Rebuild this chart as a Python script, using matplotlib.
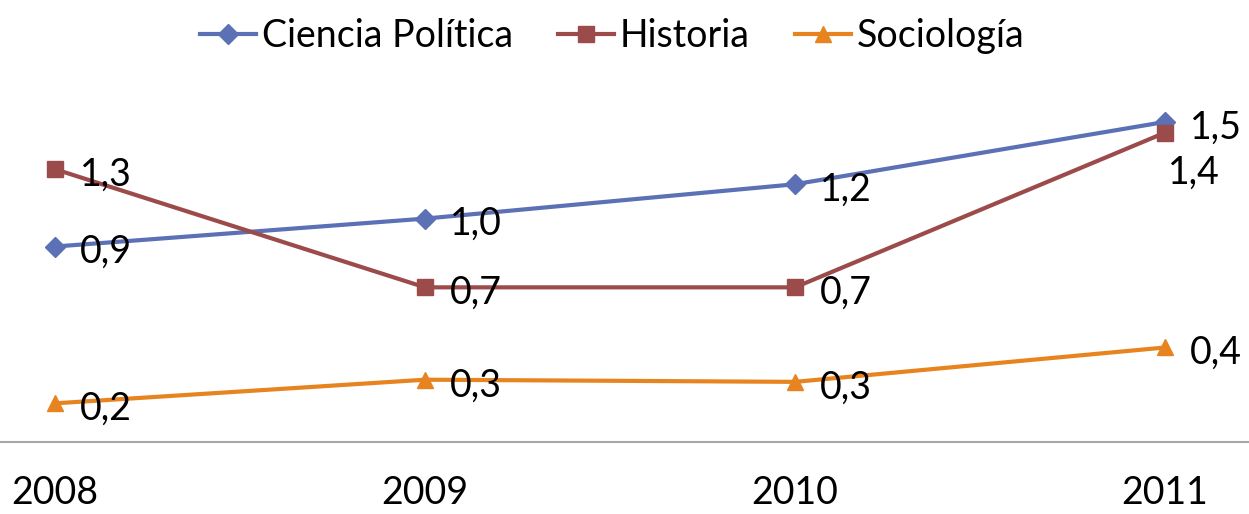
import matplotlib.pyplot as plt
import numpy as np

# Data
years = ['2008', '2009', '2010', '2011']
ciencia_politica = [0.91, 1.04, 1.20, 1.49]
historia = [1.27, 0.72, 0.72, 1.44]
sociologia = [0.18, 0.29, 0.28, 0.44]

plt.rcParams['font.family'] = ['Lato', 'DejaVu Sans']
fs = 27

fig = plt.figure(figsize=(12.49, 5.14), dpi=100)
ax = fig.add_axes([0, 72 / 514, 1, 1 - 72 / 514])

x = np.arange(len(years))
series = [
    ('Ciencia Política', ciencia_politica, '#5B70B5', 'D', 10),
    ('Historia', historia, '#9C4B4B', 's', 12),
    ('Sociología', sociologia, '#E8841F', '^', 12),
]

for name, vals, color, marker, ms in series:
    ax.plot(x, vals, color=color, lw=3, marker=marker, ms=ms,
            label=name, clip_on=False, zorder=3)
    for i, v in enumerate(vals):
        txt = f'{v:.1f}'.replace('.', ',')
        offset = (18, -4)
        if name == 'Historia' and i == 3:
            offset = (2, -29)
        ax.annotate(txt, (x[i], v), xytext=offset, textcoords='offset points',
                    ha='left', va='center', fontsize=fs, color='black', zorder=4)

ax.set_xlim(-55 / 370, 3 + 84 / 370)
ax.set_ylim(0, 442 / 214.8)
ax.set_xticks(x)
ax.set_xticklabels(years, fontsize=fs)
ax.tick_params(axis='x', length=0, pad=24)
ax.set_yticks([])
for s in ['top', 'left', 'right']:
    ax.spines[s].set_visible(False)
ax.spines['bottom'].set_color('#A6A6A6')
ax.spines['bottom'].set_linewidth(1.5)
ax.patch.set_alpha(0)

fig.legend(loc='upper center', bbox_to_anchor=(0.49, 1.03), ncol=3, frameon=False,
           fontsize=fs, handlelength=1.5, handletextpad=0.15, columnspacing=1.2)

plt.savefig('out.png', dpi=100)
